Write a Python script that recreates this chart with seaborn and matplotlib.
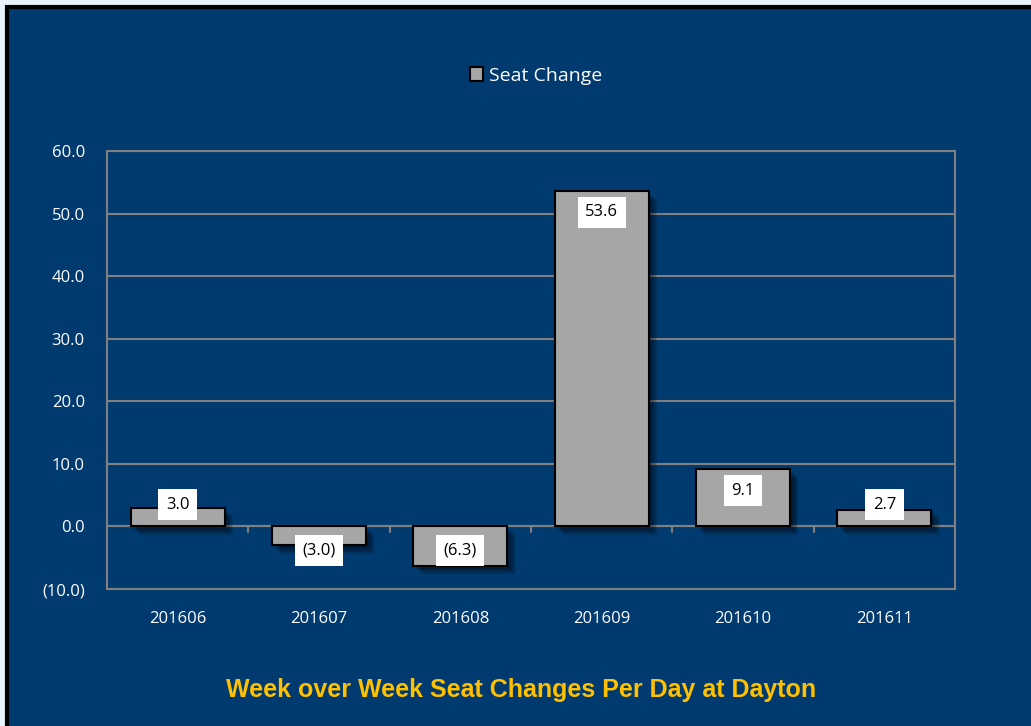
import matplotlib
matplotlib.use("Agg")
import matplotlib.pyplot as plt
import matplotlib.patheffects as pe
from matplotlib.patches import Patch, Rectangle
import seaborn as sns
import pandas as pd

months = ["201606", "201607", "201608", "201609", "201610", "201611"]
seat_change = [3.0, -3.0, -6.3, 53.6, 9.1, 2.7]
y_ticks = [-10, 0, 10, 20, 30, 40, 50, 60]

BLUE = "#003A6E"
GREY = "#808080"
BAR = "#A6A6A6"

df = pd.DataFrame({"month": months, "change": seat_change})


def fmt(v):
    return f"({abs(v):.1f})" if v < 0 else f"{v:.1f}"


sns.set_style("white")
plt.rcParams["font.family"] = ["Open Sans", "DejaVu Sans"]

fig = plt.figure(figsize=(10.31, 7.26), dpi=100)
fig.patch.set_facecolor("#EAF3FB")
# framed blue panel
fig.patches.append(Rectangle((7 / 1031, -0.05), 1.1, 1 - 7 / 726 + 0.05, transform=fig.transFigure,
                             facecolor=BLUE, edgecolor="black", linewidth=3, zorder=-1))

ax = fig.add_axes([107 / 1031, 1 - 589 / 726, (955 - 107) / 1031, (589 - 151) / 726])
ax.set_facecolor(BLUE)

sns.barplot(data=df, x="month", y="change", color=BAR, edgecolor="black", linewidth=1.5,
            width=0.665, saturation=1, ax=ax, zorder=3)
# soft drop shadow
shadow = [pe.SimplePatchShadow(offset=(d, -d), alpha=0.12, shadow_rgbFace="black") for d in (2, 3, 4, 5, 6)]
for bar in ax.patches:
    bar.set_path_effects(shadow + [pe.Normal()])

ax.set_ylim(-10, 60)
ax.set_xlim(-0.5, len(months) - 0.5)
ax.set_yticks(y_ticks)
ax.set_yticklabels([fmt(v) for v in y_ticks])
ax.grid(axis="y", color=GREY, linewidth=1.5, zorder=0)
ax.set_axisbelow(True)
for s in ax.spines.values():
    s.set_color(GREY)
    s.set_linewidth(1.5)
ax.axhline(0, color=GREY, linewidth=1.5, zorder=2)
# category separators on the zero line
for b in range(1, len(months)):
    ax.plot([b - 0.5, b - 0.5], [0, -0.9], color=GREY, linewidth=1.5, zorder=2)

ax.tick_params(axis="y", colors="white", labelsize=12, length=6, width=1.5, color=GREY, pad=10)
ax.tick_params(axis="x", colors="white", labelsize=12, length=0, pad=16)
ax.set_xlabel("")
ax.set_ylabel("")

for i, v in enumerate(seat_change):
    y = max(v - 3.4, 3.5) if v >= 0 else min(v + 2.5, -3.8)
    ax.text(i, y, fmt(v), ha="center", va="center", fontsize=12, color="black", zorder=5,
            bbox=dict(boxstyle="square,pad=0.45", facecolor="white", edgecolor="none"))

fig.legend(handles=[Patch(facecolor=BAR, edgecolor="black", linewidth=1.5, label="Seat Change")],
           loc="center", bbox_to_anchor=(0.52, 1 - 76 / 726), frameon=False,
           handlelength=0.7, handleheight=0.7, handletextpad=0.3,
           prop={"size": 14}, labelcolor="white")

fig.text(0.505, 1 - 690 / 726, "Week over Week Seat Changes Per Day at Dayton", ha="center", va="center",
         color="#FFC000", fontsize=18, family="Liberation Sans", weight="bold")

fig.savefig("out.png", dpi=100, facecolor=fig.get_facecolor())
